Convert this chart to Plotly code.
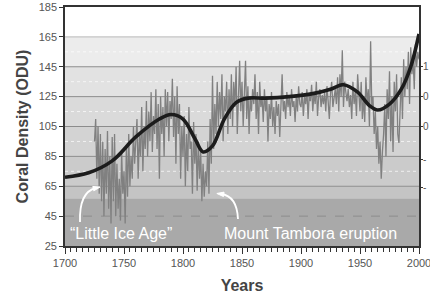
import numpy as np
import plotly.graph_objects as go

# ---------------- data ----------------
ANNUAL_START = 1725
annual_density = [
    95, 110, 70, 105, 60,
    100, 55, 95, 45, 90, 60, 102, 50, 85, 40,
    98, 55, 100, 45, 80, 50, 70, 42, 88, 60,
    75, 40, 92, 58, 100, 65, 85, 70, 105, 80,
    95, 110, 70, 100, 85, 118, 75, 105, 90, 122,
    85, 115, 95, 128, 88, 112, 100, 130, 90, 120,
    70, 125, 100, 118, 85, 130, 105, 128, 95, 122,
    110, 137, 98, 125, 80, 132, 100, 120, 70, 105,
    85, 112, 65, 100, 75, 118, 90, 95, 60, 108,
    80, 100, 62, 95, 70, 88, 55, 80, 58, 75,
    65, 95, 60, 110, 80, 139, 90, 120, 100, 135,
    105, 128, 110, 140, 95, 125, 115, 135, 100, 130,
    110, 140, 105, 135, 118, 145, 100, 130, 149, 115,
    135, 105, 128, 149, 110, 132, 100, 125, 115, 130,
    120, 140, 110, 128, 100, 135, 118, 125, 108, 130,
    115, 125, 95, 120, 110, 128, 105, 118, 100, 122,
    112, 120, 98, 125, 140, 115, 122, 110, 128, 118,
    125, 112, 130, 118, 122, 108, 126, 115, 132, 120,
    118, 128, 112, 125, 120, 130, 110, 127, 122, 133,
    115, 128, 120, 135, 112, 125, 130, 118, 126, 120,
    128, 115, 132, 122, 110, 127, 135, 118, 125, 130,
    120, 138, 115, 140, 125, 156, 118, 135, 128, 122,
    130, 118, 126, 110, 135, 120, 128, 112, 140, 122,
    115, 135, 110, 125, 108, 138, 120, 130, 105, 162,
    118, 125, 100, 115, 90, 105, 80, 95, 70, 88,
    100, 120, 85, 130, 110, 142, 95, 125, 88, 135,
    115, 140, 100, 94, 120, 138, 110, 150, 125, 145,
    130, 155, 120, 158, 140, 150, 130, 160, 145, 155,
    150,
]
annual_years = list(range(ANNUAL_START, ANNUAL_START + len(annual_density)))

smooth_years = [1700, 1720, 1740, 1760, 1780, 1790, 1800, 1810, 1817, 1825,
                1835, 1845, 1855, 1870, 1890, 1910, 1925, 1936, 1948, 1958,
                1965, 1975, 1985, 1993, 2000]
smooth_density = [71, 74, 82, 98, 110, 113, 110, 97, 88, 92,
                  110, 121, 124, 124, 125, 127, 130, 133, 128, 119,
                  116, 120, 130, 145, 167]

y_ticks = [25, 45, 65, 85, 105, 125, 145, 165, 185]
x_ticks = [1700, 1750, 1800, 1850, 1900, 1950, 2000]
# right-hand axis: only the first character of each label is visible
right_tick_vals = [145, 125, 105, 83, 64]
right_tick_text = ["1", "0", "0", "-", "-"]

grid_solid = [45, 65, 85, 105, 125, 145, 165]
grid_dotted = [75, 95, 115, 135, 155]
bands = [  # (low, high, colour)
    (25, 57, "#a9a9a9"),
    (57, 65, "#c4c4c4"),
    (65, 85, "#cbcbcb"),
    (85, 105, "#d3d3d3"),
    (105, 125, "#dadada"),
    (125, 145, "#e2e2e2"),
    (145, 165, "#ececec"),
]

# ---------------- layout geometry ----------------
W, H = 430, 297
L, R, T, B = 65, 11, 7, 51
PW, PH = W - L - R, H - T - B


def px2paper(x, y):
    return (x - L) / PW, (H - B - y) / PH


fig = go.Figure()

fig.add_trace(go.Scatter(x=annual_years, y=annual_density, mode="lines",
                         line=dict(color="#808080", width=1.3),
                         hoverinfo="skip", showlegend=False))
fig.add_trace(go.Scatter(x=smooth_years, y=smooth_density, mode="lines",
                         line=dict(color="#1c1c1c", width=3.6, shape="spline",
                                   smoothing=1.0),
                         hoverinfo="skip", showlegend=False))
fig.add_trace(go.Scatter(x=[1700], y=[25], yaxis="y2", mode="markers",
                         marker=dict(opacity=0), hoverinfo="skip",
                         showlegend=False))

shapes = []
for lo, hi, col in bands:
    shapes.append(dict(type="rect", xref="paper", yref="y", x0=0, x1=1,
                       y0=lo, y1=hi, fillcolor=col, line=dict(width=0),
                       layer="below"))
for g in grid_solid:
    shapes.append(dict(type="line", xref="paper", yref="y", x0=0, x1=1,
                       y0=g, y1=g, layer="below",
                       line=dict(color="#8c8c8c" if g != 165 else "#b8b8b8",
                                 width=1,
                                 dash="dash" if g == 45 else "solid")))
for g in grid_dotted:
    shapes.append(dict(type="line", xref="paper", yref="y", x0=0, x1=1,
                       y0=g, y1=g, layer="below",
                       line=dict(color="rgba(255,255,255,0.7)", width=1,
                                 dash="dot")))


def curved_arrow(p0, c, p1, head_len=7, head_w=4.5):
    x0, y0 = px2paper(*p0)
    cx, cy = px2paper(*c)
    x1, y1 = px2paper(*p1)
    shapes.append(dict(type="path", xref="paper", yref="paper",
                       path=f"M {x0},{y0} Q {cx},{cy} {x1},{y1}",
                       line=dict(color="white", width=1.8)))
    d = np.array(p1, float) - np.array(c, float)
    d /= np.linalg.norm(d)
    n = np.array([-d[1], d[0]])
    tip = np.array(p1, float) + d * head_len * 0.6
    base = tip - d * head_len
    b1 = base + n * head_w / 2
    b2 = base - n * head_w / 2
    pts = [px2paper(*tip), px2paper(*b1), px2paper(*b2)]
    path = "M {},{} L {},{} L {},{} Z".format(*[v for p in pts for v in p])
    shapes.append(dict(type="path", xref="paper", yref="paper", path=path,
                       fillcolor="white", line=dict(color="white", width=1)))


curved_arrow((80, 222), (79, 192), (96, 188))
curved_arrow((238, 219), (237, 196), (221, 194))

annotations = [
    dict(x=px2paper(68, 233)[0], y=px2paper(68, 233)[1], xref="paper",
         yref="paper", text="\u201cLittle Ice Age\u201d", showarrow=False,
         xanchor="left", yanchor="middle",
         font=dict(family="Liberation Sans, Arial", size=16, color="white")),
    dict(x=px2paper(222, 233)[0], y=px2paper(222, 233)[1], xref="paper",
         yref="paper", text="Mount Tambora eruption", showarrow=False,
         xanchor="left", yanchor="middle",
         font=dict(family="Liberation Sans, Arial", size=16, color="white")),
]

fig.update_layout(
    template="none",
    width=W, height=H,
    margin=dict(l=L, r=R, t=T, b=B, pad=0, autoexpand=False),
    paper_bgcolor="white", plot_bgcolor="white",
    font=dict(family="Liberation Sans, Arial", color="#555555", size=11),
    shapes=shapes, annotations=annotations,
    xaxis=dict(range=[1700, 2000], tickvals=x_ticks, ticks="outside",
               ticklen=6, tickwidth=1.2, tickcolor="#333", automargin=False,
               minor=dict(dtick=5, tick0=1700, ticks="outside", ticklen=4,
                          tickcolor="#333", tickwidth=1, showgrid=False),
               showline=True, linecolor="#333", linewidth=1.6, mirror=True,
               showgrid=False, zeroline=False, ticklabeloverflow="allow",
               tickfont=dict(size=11, color="#555555"),
               title=dict(text="<b>Years</b>", standoff=12,
                          font=dict(size=16, color="#444"))),
    yaxis=dict(range=[25, 185], tickvals=y_ticks, ticks="outside", ticklen=4,
               tickcolor="#333", showline=True, linecolor="#333",
               linewidth=1.6, mirror=True, showgrid=False, zeroline=False,
               automargin=False,
               tickfont=dict(size=11, color="#555555"),
               title=dict(text="<b>Coral Density (ODU)</b>", standoff=6,
                          font=dict(size=16, color="#444"))),
    yaxis2=dict(range=[25, 185], overlaying="y", side="right",
                tickvals=right_tick_vals, ticktext=right_tick_text,
                ticks="outside", ticklen=3, tickcolor="#333",
                ticklabelstandoff=-2,
                automargin=False,
                showgrid=False, zeroline=False, showline=False,
                tickfont=dict(size=10, color="#555555")),
)

fig.write_html("out.html", config={"displayModeBar": False},
               post_script="document.body.style.margin='0px';")
